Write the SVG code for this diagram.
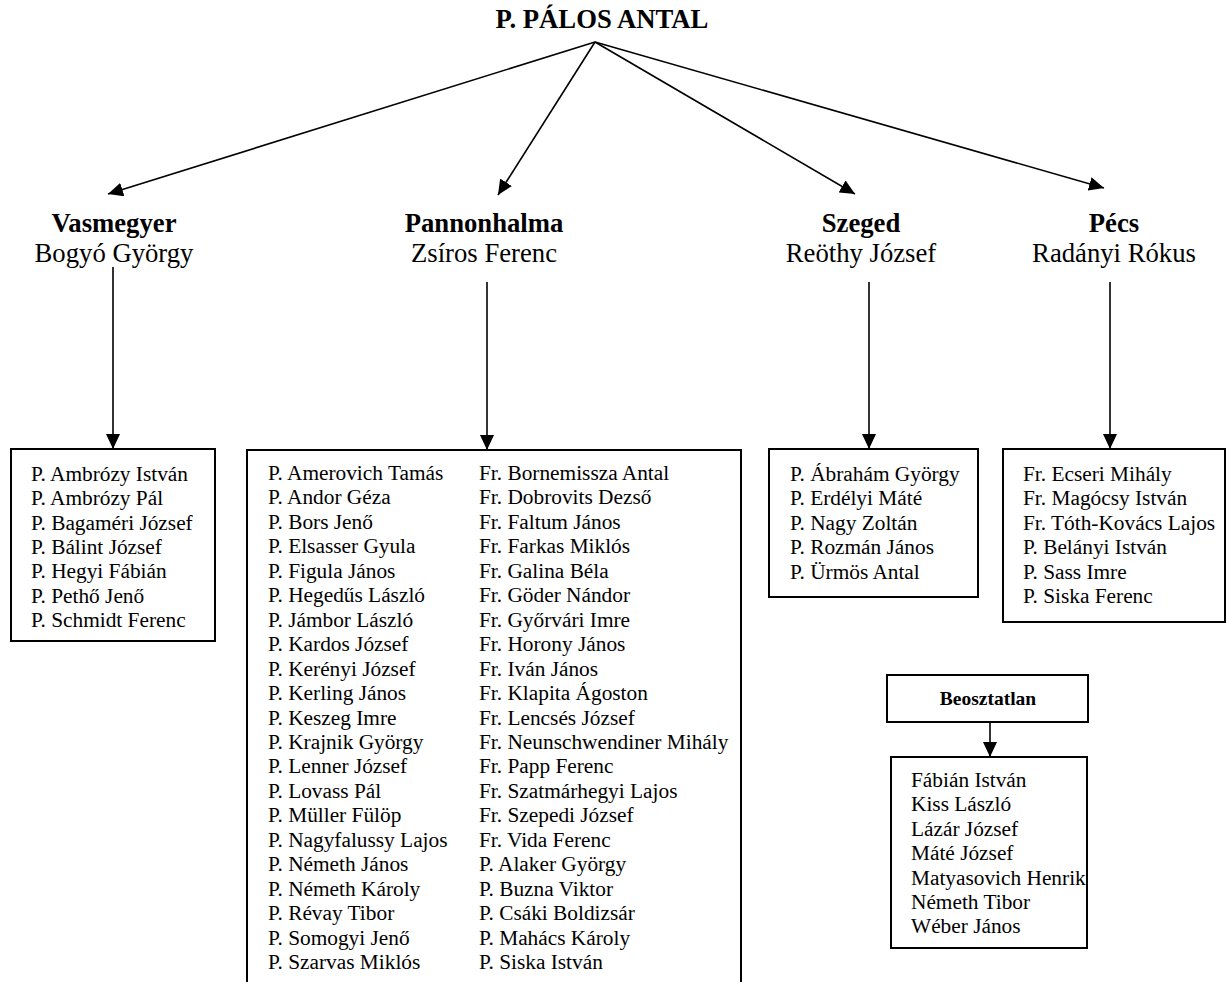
<svg xmlns="http://www.w3.org/2000/svg" width="1227" height="982" viewBox="0 0 1227 982">
<style>
text{font-family:"Liberation Serif","Times New Roman",serif;fill:#000}
.title{font-size:26.7px;font-weight:bold;text-anchor:middle}
.hb{font-size:26.7px;font-weight:bold;text-anchor:middle}
.hr{font-size:26.7px;text-anchor:middle}
.li{font-size:21.33px}
.sb{font-size:19.5px;font-weight:bold;text-anchor:middle}
.box{fill:#fff;stroke:#000;stroke-width:2}
.con{stroke:#000;stroke-width:1.6;fill:none;marker-end:url(#ah)}
</style>
<defs>
<marker id="ah" markerUnits="userSpaceOnUse" markerWidth="16" markerHeight="14" refX="15" refY="7" orient="auto">
<path d="M0,0 L15,7 L0,14 z" fill="#000"/>
</marker>
</defs>
<rect width="1227" height="982" fill="#fff"/>
<g id="connectors">
<line class="con" x1="595" y1="42" x2="108" y2="194"/>
<line class="con" x1="595" y1="42" x2="498" y2="195"/>
<line class="con" x1="595" y1="42" x2="855" y2="194"/>
<line class="con" x1="595" y1="42" x2="1104" y2="188"/>
<line class="con" x1="113" y1="267" x2="113" y2="449"/>
<line class="con" x1="487" y1="282" x2="487" y2="450"/>
<line class="con" x1="869" y1="282" x2="869" y2="449"/>
<line class="con" x1="1110" y1="282" x2="1110" y2="449"/>
<line class="con" x1="990" y1="722" x2="990" y2="757"/>
</g>
<g id="root">
<text class="title" x="602" y="28">P. PÁLOS ANTAL</text>
</g>
<g id="vasmegyer">
<text class="hb" x="114" y="232">Vasmegyer</text>
<text class="hr" x="114" y="262">Bogyó György</text>
</g>
<g id="pannonhalma">
<text class="hb" x="484" y="232">Pannonhalma</text>
<text class="hr" x="484" y="262">Zsíros Ferenc</text>
</g>
<g id="szeged">
<text class="hb" x="861" y="232">Szeged</text>
<text class="hr" x="861" y="262">Reöthy József</text>
</g>
<g id="pecs">
<text class="hb" x="1114" y="232">Pécs</text>
<text class="hr" x="1114" y="262">Radányi Rókus</text>
</g>
<g id="vasmegyer-list">
<rect class="box" x="11" y="449" width="204" height="192"/>
<text class="li" x="31" y="481"><tspan x="31">P. Ambrózy István</tspan><tspan x="31" dy="24.3">P. Ambrózy Pál</tspan><tspan x="31" dy="24.3">P. Bagaméri József</tspan><tspan x="31" dy="24.3">P. Bálint József</tspan><tspan x="31" dy="24.3">P. Hegyi Fábián</tspan><tspan x="31" dy="24.3">P. Pethő Jenő</tspan><tspan x="31" dy="24.3">P. Schmidt Ferenc</tspan></text>
</g>
<g id="pannonhalma-list">
<rect class="box" x="247" y="450" width="494" height="545"/>
<text class="li" x="268" y="480"><tspan x="268">P. Amerovich Tamás</tspan><tspan x="268" dy="24.45">P. Andor Géza</tspan><tspan x="268" dy="24.45">P. Bors Jenő</tspan><tspan x="268" dy="24.45">P. Elsasser Gyula</tspan><tspan x="268" dy="24.45">P. Figula János</tspan><tspan x="268" dy="24.45">P. Hegedűs László</tspan><tspan x="268" dy="24.45">P. Jámbor László</tspan><tspan x="268" dy="24.45">P. Kardos József</tspan><tspan x="268" dy="24.45">P. Kerényi József</tspan><tspan x="268" dy="24.45">P. Kerling János</tspan><tspan x="268" dy="24.45">P. Keszeg Imre</tspan><tspan x="268" dy="24.45">P. Krajnik György</tspan><tspan x="268" dy="24.45">P. Lenner József</tspan><tspan x="268" dy="24.45">P. Lovass Pál</tspan><tspan x="268" dy="24.45">P. Müller Fülöp</tspan><tspan x="268" dy="24.45">P. Nagyfalussy Lajos</tspan><tspan x="268" dy="24.45">P. Németh János</tspan><tspan x="268" dy="24.45">P. Németh Károly</tspan><tspan x="268" dy="24.45">P. Révay Tibor</tspan><tspan x="268" dy="24.45">P. Somogyi Jenő</tspan><tspan x="268" dy="24.45">P. Szarvas Miklós</tspan></text>
<text class="li" x="479" y="480"><tspan x="479">Fr. Bornemissza Antal</tspan><tspan x="479" dy="24.45">Fr. Dobrovits Dezső</tspan><tspan x="479" dy="24.45">Fr. Faltum János</tspan><tspan x="479" dy="24.45">Fr. Farkas Miklós</tspan><tspan x="479" dy="24.45">Fr. Galina Béla</tspan><tspan x="479" dy="24.45">Fr. Göder Nándor</tspan><tspan x="479" dy="24.45">Fr. Győrvári Imre</tspan><tspan x="479" dy="24.45">Fr. Horony János</tspan><tspan x="479" dy="24.45">Fr. Iván János</tspan><tspan x="479" dy="24.45">Fr. Klapita Ágoston</tspan><tspan x="479" dy="24.45">Fr. Lencsés József</tspan><tspan x="479" dy="24.45">Fr. Neunschwendiner Mihály</tspan><tspan x="479" dy="24.45">Fr. Papp Ferenc</tspan><tspan x="479" dy="24.45">Fr. Szatmárhegyi Lajos</tspan><tspan x="479" dy="24.45">Fr. Szepedi József</tspan><tspan x="479" dy="24.45">Fr. Vida Ferenc</tspan><tspan x="479" dy="24.45">P. Alaker György</tspan><tspan x="479" dy="24.45">P. Buzna Viktor</tspan><tspan x="479" dy="24.45">P. Csáki Boldizsár</tspan><tspan x="479" dy="24.45">P. Mahács Károly</tspan><tspan x="479" dy="24.45">P. Siska István</tspan></text>
</g>
<g id="szeged-list">
<rect class="box" x="769" y="449" width="209" height="148"/>
<text class="li" x="790" y="481"><tspan x="790">P. Ábrahám György</tspan><tspan x="790" dy="24.4">P. Erdélyi Máté</tspan><tspan x="790" dy="24.4">P. Nagy Zoltán</tspan><tspan x="790" dy="24.4">P. Rozmán János</tspan><tspan x="790" dy="24.4">P. Ürmös Antal</tspan></text>
</g>
<g id="pecs-list">
<rect class="box" x="1003" y="449" width="222" height="173"/>
<text class="li" x="1023" y="481"><tspan x="1023">Fr. Ecseri Mihály</tspan><tspan x="1023" dy="24.4">Fr. Magócsy István</tspan><tspan x="1023" dy="24.4">Fr. Tóth-Kovács Lajos</tspan><tspan x="1023" dy="24.4">P. Belányi István</tspan><tspan x="1023" dy="24.4">P. Sass Imre</tspan><tspan x="1023" dy="24.4">P. Siska Ferenc</tspan></text>
</g>
<g id="beosztatlan">
<rect class="box" x="887" y="675" width="201" height="47"/>
<text class="sb" x="988" y="705">Beosztatlan</text>
</g>
<g id="beosztatlan-list">
<rect class="box" x="891" y="757" width="196" height="191"/>
<text class="li" x="911" y="787"><tspan x="911">Fábián István</tspan><tspan x="911" dy="24.4">Kiss László</tspan><tspan x="911" dy="24.4">Lázár József</tspan><tspan x="911" dy="24.4">Máté József</tspan><tspan x="911" dy="24.4">Matyasovich Henrik</tspan><tspan x="911" dy="24.4">Németh Tibor</tspan><tspan x="911" dy="24.4">Wéber János</tspan></text>
</g>
</svg>
